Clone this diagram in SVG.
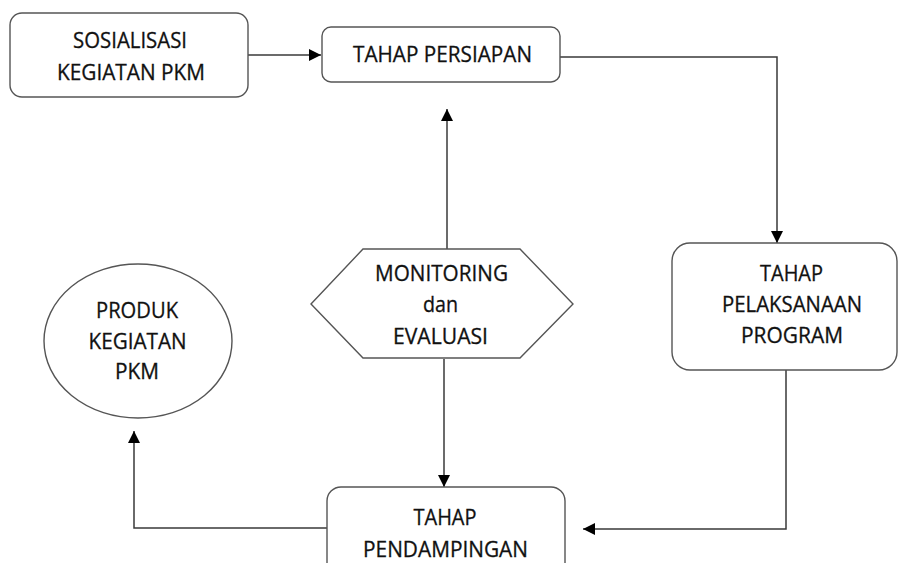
<svg xmlns="http://www.w3.org/2000/svg" width="899" height="563" viewBox="0 0 899 563">
<style>
.box{fill:#fff;stroke:#555;stroke-width:1.4}
.lbl{font-family:"Open Sans","Liberation Sans",sans-serif;font-size:21.5px;fill:#111;stroke:#111;stroke-width:0.3;text-anchor:middle}
.con{fill:none;stroke:#3a3a3a;stroke-width:1.5}
</style>
<defs>
<marker id="ah" markerUnits="userSpaceOnUse" markerWidth="14" markerHeight="14" refX="12" refY="6" orient="auto">
<path d="M0,0 L12,6 L0,12 z" fill="#000"/>
</marker>
</defs>
<rect width="899" height="563" fill="#fff"/>
<g id="connectors">
<path class="con" d="M248,55 H321" marker-end="url(#ah)"/>
<path class="con" d="M560,57 H777 V243" marker-end="url(#ah)"/>
<path class="con" d="M786,370 V529 H583" marker-end="url(#ah)"/>
<path class="con" d="M327,528 H134 V431" marker-end="url(#ah)"/>
<path class="con" d="M447,249 V109" marker-end="url(#ah)"/>
<path class="con" d="M444,359 V487" marker-end="url(#ah)"/>
</g>
<g id="sosialisasi">
<rect class="box" x="10" y="13" width="238" height="84" rx="12"/>
<text class="lbl" x="130" y="48" textLength="114" lengthAdjust="spacingAndGlyphs">SOSIALISASI</text>
<text class="lbl" x="131" y="80" textLength="148" lengthAdjust="spacingAndGlyphs">KEGIATAN PKM</text>
</g>
<g id="persiapan">
<rect class="box" x="322" y="27" width="238" height="55" rx="9"/>
<text class="lbl" x="442.5" y="62" textLength="179" lengthAdjust="spacingAndGlyphs">TAHAP PERSIAPAN</text>
</g>
<g id="pelaksanaan">
<rect class="box" x="672" y="243" width="225" height="127" rx="18"/>
<text class="lbl" x="791.5" y="281" textLength="63" lengthAdjust="spacingAndGlyphs">TAHAP</text>
<text class="lbl" x="792" y="312" textLength="140" lengthAdjust="spacingAndGlyphs">PELAKSANAAN</text>
<text class="lbl" x="792" y="343" textLength="102" lengthAdjust="spacingAndGlyphs">PROGRAM</text>
</g>
<g id="pendampingan">
<rect class="box" x="327" y="487" width="238" height="95" rx="14"/>
<text class="lbl" x="445" y="525" textLength="63" lengthAdjust="spacingAndGlyphs">TAHAP</text>
<text class="lbl" x="445.5" y="557" textLength="165" lengthAdjust="spacingAndGlyphs">PENDAMPINGAN</text>
</g>
<g id="monev">
<polygon class="box" points="311,304 363,249 520,249 573,304 520,358 363,358"/>
<text class="lbl" x="441.5" y="281" textLength="133" lengthAdjust="spacingAndGlyphs">MONITORING</text>
<text class="lbl" x="440.5" y="312" textLength="35" lengthAdjust="spacingAndGlyphs">dan</text>
<text class="lbl" x="440.5" y="344" textLength="95" lengthAdjust="spacingAndGlyphs">EVALUASI</text>
</g>
<g id="produk">
<ellipse class="box" cx="138" cy="341" rx="94" ry="77"/>
<text class="lbl" x="137" y="318" textLength="82" lengthAdjust="spacingAndGlyphs">PRODUK</text>
<text class="lbl" x="137.5" y="349" textLength="98" lengthAdjust="spacingAndGlyphs">KEGIATAN</text>
<text class="lbl" x="137" y="379" textLength="44" lengthAdjust="spacingAndGlyphs">PKM</text>
</g>
</svg>
